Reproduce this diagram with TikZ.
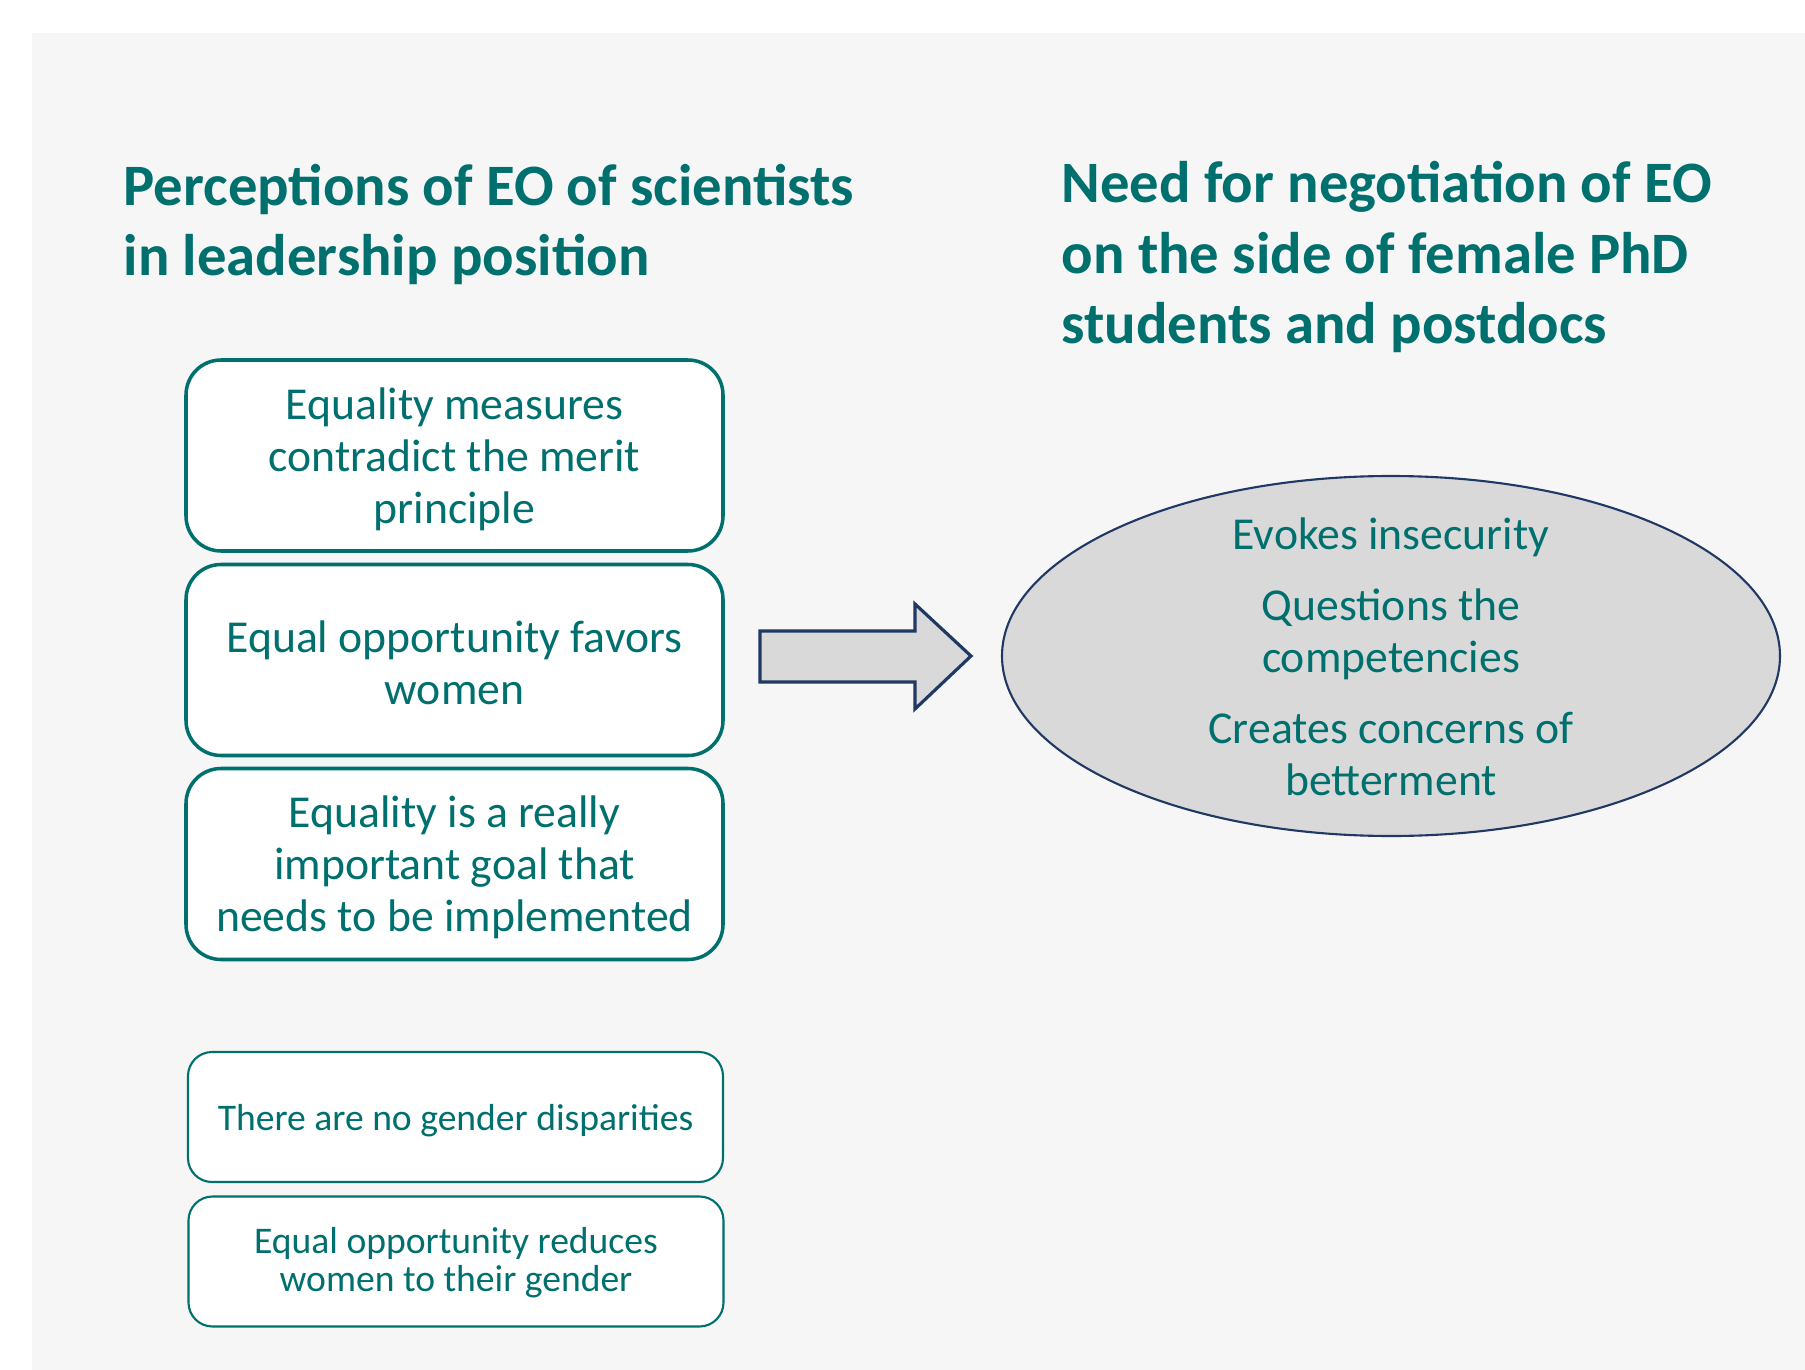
\documentclass[tikz,border=0pt]{standalone}
\usepackage{fontspec}
\setmainfont{Carlito}
\usetikzlibrary{shapes.geometric}
\definecolor{eoteal}{HTML}{00706F}
\definecolor{eonavy}{HTML}{203864}
\definecolor{panelgray}{HTML}{F6F6F6}
\definecolor{shapegray}{HTML}{D9D9D9}
\begin{document}
\begin{tikzpicture}[x=0.1mm, y=-0.1mm,
  heading/.style={anchor=base west, inner sep=0pt, align=left, text=eoteal,
    font=\bfseries\fontsize{16.7pt}{20.2pt}\selectfont},
  bigbox/.style={draw=eoteal, line width=1pt, fill=white, rounded corners=3.5mm,
    minimum width=53.7mm, minimum height=19.1mm, inner sep=0pt, align=center,
    text=eoteal, font=\fontsize{13pt}{14.8pt}\selectfont},
  smallbox/.style={draw=eoteal, line width=0.6pt, fill=white, rounded corners=2.4mm,
    minimum width=53.5mm, minimum height=13mm, inner sep=0pt, align=center,
    text=eoteal, font=\fontsize{10.7pt}{10.8pt}\selectfont},
  oval/.style={ellipse, draw=eonavy, line width=0.6pt, fill=shapegray,
    minimum width=77.8mm, minimum height=36mm, inner sep=0pt},
  ovaltext/.style={align=center, inner sep=0pt, text=eoteal, yshift=-0.2pt,
    font=\fontsize{13pt}{14.8pt}\selectfont},
  blockarrow/.style={draw=eonavy, line width=0.9pt, fill=shapegray, line join=miter}
]
% page and grey panel
\useasboundingbox (0,0) rectangle (1805,1370);
\fill[white] (0,0) rectangle (1805,1370);
\fill[panelgray] (32,33) rectangle (1805,1370);

% column headings (anchored at the baseline of their last line)
\node[heading] (lefthead) at (123,276)
  {Perceptions of EO of scientists\\in leadership position};
\node[heading] (righthead) at (1061,344)
  {Need for negotiation of EO\\on the side of female PhD\\students and postdocs};

% perceptions; text height/depth trim the optical centring of each text block
\node[bigbox, text depth=0.1pt] (merit) at (454.5,455.5)
  {Equality measures\\contradict the merit\\principle};
\node[bigbox, text height=25.5pt] (favors) at (454.5,660)
  {Equal opportunity favors\\women};
\node[bigbox, text depth=0.1pt] (goal) at (454.5,864)
  {Equality is a really\\important goal that\\needs to be implemented};
\node[smallbox, text depth=0pt] (nodisp) at (455.5,1117)
  {There are no gender disparities};
\node[smallbox, text depth=0.95pt] (reduces) at (456,1261.5)
  {Equal opportunity reduces\\women to their gender};

% block arrow towards the consequences
\draw[blockarrow] (760,631) -- (915,631) -- (915,604) -- (971,656)
  -- (915,709) -- (915,682) -- (760,682) -- cycle;

% consequences
\node[oval] (needs) at (1391,656) {};
\node[ovaltext] (needstext) at (needs.center)
  {Evokes insecurity\\[5.4pt]Questions the\\competencies\\[5.4pt]Creates concerns of\\betterment};
\end{tikzpicture}
\end{document}
